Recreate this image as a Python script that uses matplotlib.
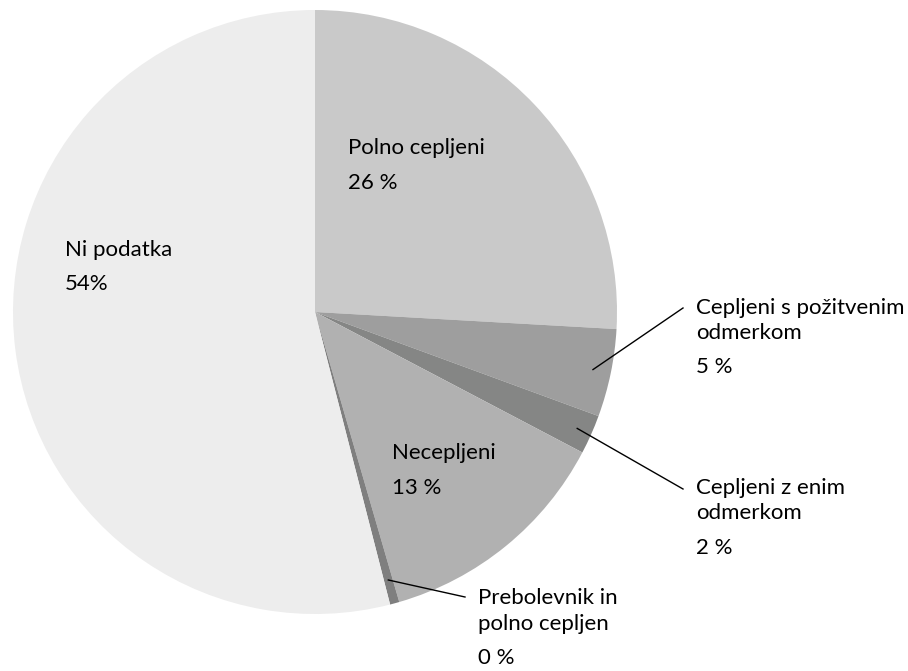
import numpy as np
import matplotlib.pyplot as plt

plt.rcParams['font.family'] = ['Lato', 'DejaVu Sans']

# slices, clockwise from the top
labels = ['Polno cepljeni', 'Cepljeni s požitvenim\nodmerkom', 'Cepljeni z enim\nodmerkom',
          'Necepljeni', 'Prebolevnik in\npolno cepljen', 'Ni podatka']
values = [25.9, 4.7, 2.1, 12.8, 0.5, 54.0]
pct_labels = ['26 %', '5 %', '2 %', '13 %', '0 %', '54%']
colors = ['#c9c9c9', '#9e9e9e', '#858685', '#b1b1b1', '#7f7f7f', '#ededed']

W, H = 908, 671
fig = plt.figure(figsize=(W / 100, H / 100), dpi=100)
ax = fig.add_axes([0, 0, 1, 1])

cx, cy, r = 315, H - 312, 302
wedges, _ = ax.pie(values, colors=colors, startangle=90, counterclock=False,
                   center=(cx, cy), radius=r, wedgeprops=dict(linewidth=0),
                   frame=True)
ax.set_xlim(0, W)
ax.set_ylim(0, H)
ax.set_aspect('equal')
ax.axis('off')

fs = 16
# label positions in pixels from top-left: x, y of each text line, y of percentage
label_pos = {0: (348, [148], 183),
             1: (696, [308, 333], 367),
             2: (696, [488, 513], 548),
             3: (392, [453], 488),
             4: (478, [598, 624], 658),
             5: (65, [250], 284)}
for i, (x, ys, yp) in label_pos.items():
    for line, y in zip(labels[i].split('\n'), ys):
        ax.text(x, H - y, line, fontsize=fs, va='center', ha='left')
    ax.text(x, H - yp, pct_labels[i], fontsize=fs, va='center', ha='left')

# leader lines for the thin slices (end point in pixels)
leaders = {1: (0.94, (683, 308)), 2: (0.95, (683, 489)), 4: (0.92, (465, 597))}
for i, (frac, end) in leaders.items():
    w = wedges[i]
    mid = np.deg2rad((w.theta1 + w.theta2) / 2)
    px, py = cx + frac * r * np.cos(mid), cy + frac * r * np.sin(mid)
    ax.plot([px, end[0]], [py, H - end[1]], color='black', lw=1)

fig.savefig('out.png', dpi=100, facecolor='white')
